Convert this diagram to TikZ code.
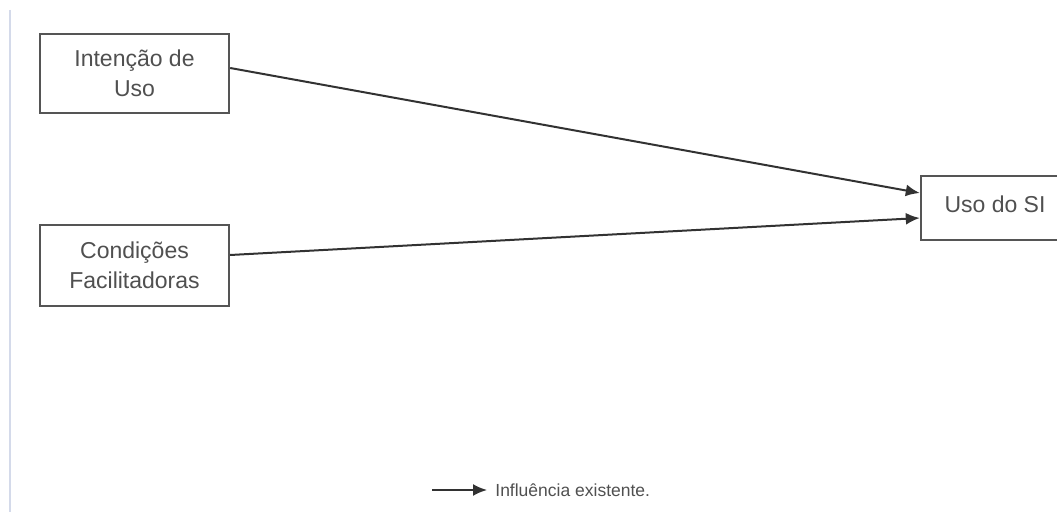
\documentclass[tikz,border=0pt]{standalone}
\usepackage{fontspec}
\setmainfont{Liberation Sans}
\usetikzlibrary{arrows.meta,calc}
\definecolor{txt}{RGB}{80,80,80}
\definecolor{boxc}{RGB}{85,85,85}
\definecolor{linec}{RGB}{50,50,50}
\definecolor{margin}{RGB}{212,218,234}
\tikzset{
  box/.style={draw=boxc, line width=1.2pt, fill=white, inner sep=0pt, align=center,
    text=txt, font=\fontsize{11.5}{15}\selectfont},
  conn/.style={draw=linec, line width=1pt, -{Latex[length=7pt,width=6pt]}},
}
\begin{document}
\begin{tikzpicture}[x=0.5pt,y=-0.5pt]
\useasboundingbox (0,0) rectangle (1057,519);
\clip (0,0) rectangle (1057,519);
\draw[margin, line width=1pt] (10,10) -- (10,512);
\node[box, minimum width=94.5pt, minimum height=39.5pt] (b1) at (134.5,73.5) {Intenção de\\Uso};
\node[box, minimum width=94.5pt, minimum height=40.5pt] (b2) at (134.5,265.5) {Condições\\Facilitadoras};
\node[box, minimum width=74pt, minimum height=32pt] (b3) at (995,208) {\raisebox{4pt}{Uso do SI}};
\draw[conn] ($(b1.east)+(0,-5.5)$) -- ($(b3.west)+(0,-15)$);
\draw[conn] ($(b2.east)+(0,-10.5)$) -- ($(b3.west)+(0,10)$);
\coordinate (l1) at (432,490);
\node[anchor=west, inner sep=0pt, text=txt, font=\fontsize{8.75}{10}\selectfont] (leg) at (495,490) {Influência existente.};
\draw[conn, shorten >=4pt] (l1) -- (leg.west);
\end{tikzpicture}
\end{document}
